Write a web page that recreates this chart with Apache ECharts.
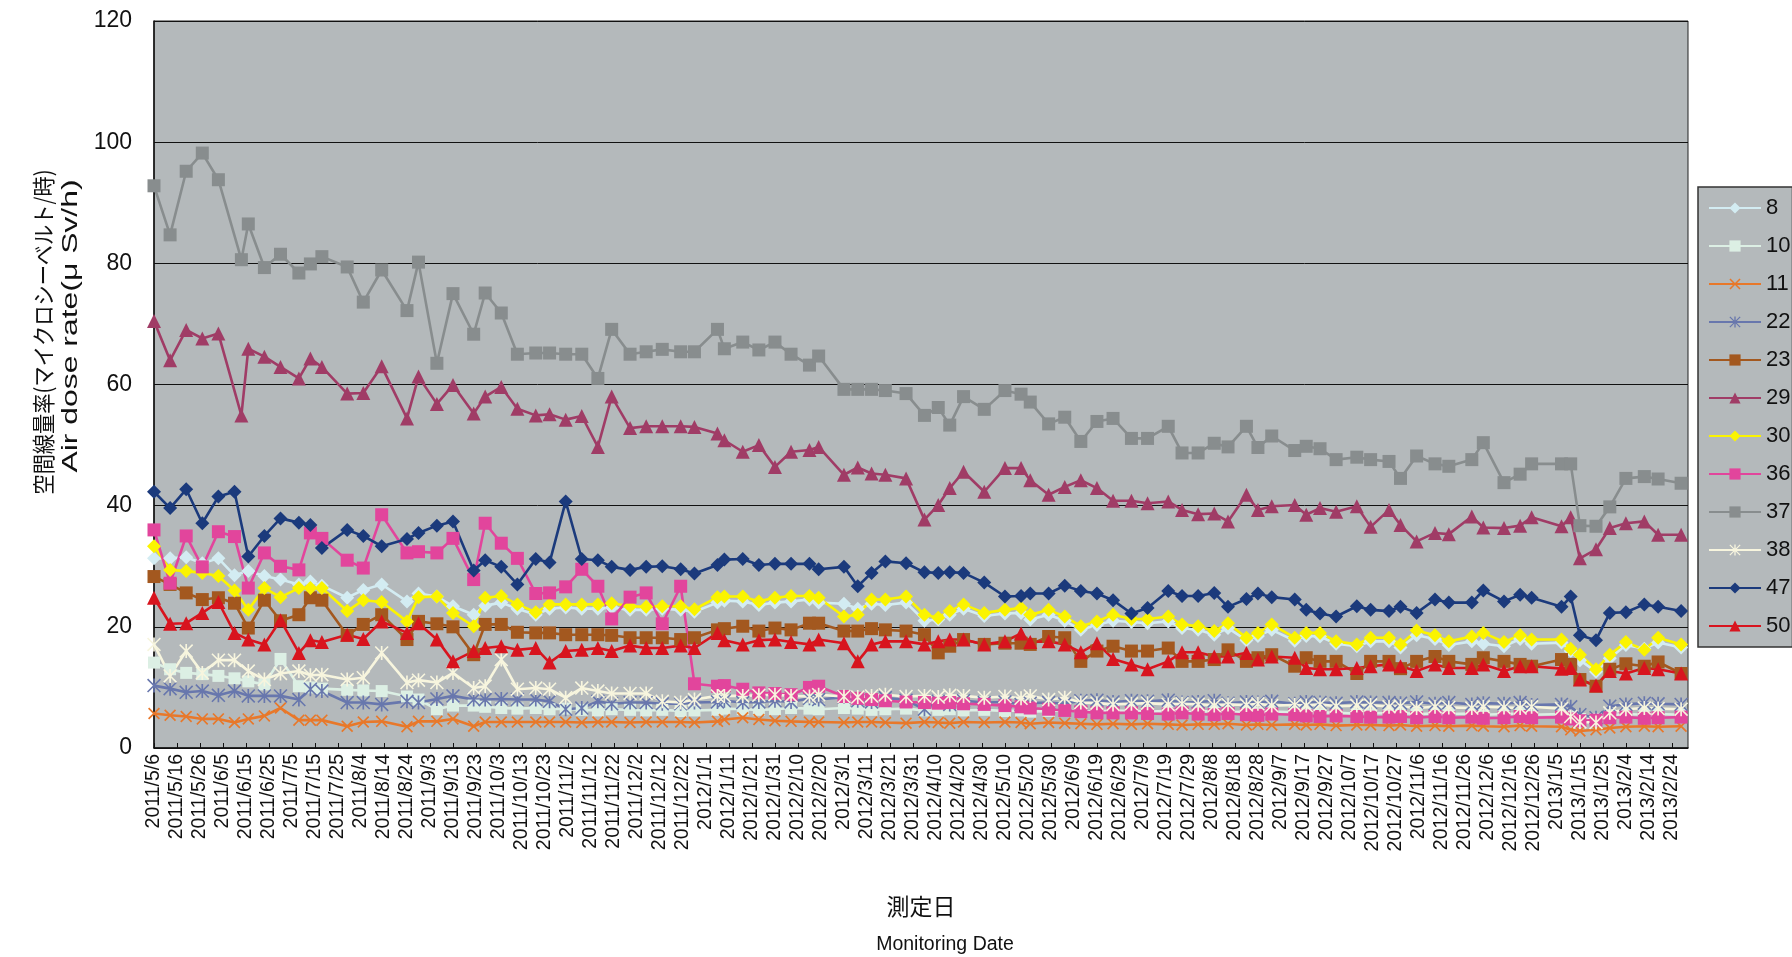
<!DOCTYPE html>
<html>
<head>
<meta charset="utf-8">
<script src="https://cdn.jsdelivr.net/npm/echarts@6/dist/echarts.min.js"></script>
<style>
html,body{margin:0;padding:0;background:#fff;}
#chart{width:1792px;height:957px;}
</style>
</head>
<body>
<div id="chart"></div>
<script>
// ---- measurement dates ----
const dates = [
'2011/5/6','2011/5/13','2011/5/20','2011/5/27','2011/6/3','2011/6/10','2011/6/13','2011/6/16','2011/6/23','2011/6/30',
'2011/7/8','2011/7/13','2011/7/18','2011/7/29','2011/8/5','2011/8/13','2011/8/24','2011/8/29','2011/9/6','2011/9/13',
'2011/9/22','2011/9/27','2011/10/4','2011/10/11','2011/10/19','2011/10/25','2011/11/1','2011/11/8','2011/11/15','2011/11/21',
'2011/11/29','2011/12/6','2011/12/13','2011/12/21','2011/12/27','2012/1/6','2012/1/9','2012/1/17','2012/1/24','2012/1/31',
'2012/2/7','2012/2/15','2012/2/19','2012/3/1','2012/3/7','2012/3/13','2012/3/19','2012/3/28','2012/4/5','2012/4/11',
'2012/4/16','2012/4/22','2012/5/1','2012/5/10','2012/5/17','2012/5/21','2012/5/29','2012/6/5','2012/6/12','2012/6/19',
'2012/6/26','2012/7/4','2012/7/11','2012/7/20','2012/7/26','2012/8/2','2012/8/9','2012/8/15','2012/8/23','2012/8/28',
'2012/9/3','2012/9/13','2012/9/18','2012/9/24','2012/10/1','2012/10/10','2012/10/16','2012/10/24','2012/10/29','2012/11/5',
'2012/11/13','2012/11/19','2012/11/29','2012/12/4','2012/12/13','2012/12/20','2012/12/25','2013/1/7','2013/1/11','2013/1/15',
'2013/1/22','2013/1/28','2013/2/4','2013/2/12','2013/2/18','2013/2/28'
];

// ---- series values (μSv/h) ----
const s8 = [
31.3,31.3,31.5,30.5,31.3,28.5,null,29.2,28.4,27.8,
27.0,27.5,26.8,24.8,26.1,27.0,24.2,25.5,25.0,23.4,
22.0,23.5,24.0,23.0,22.0,23.0,23.2,23.0,23.0,23.2,
22.8,22.8,23.0,22.8,22.5,24.0,24.3,24.2,23.6,24.0,
24.2,24.5,24.0,23.8,23.0,23.8,23.6,24.0,21.0,21.2,
22.0,23.0,21.8,22.2,22.3,21.2,22.0,21.0,19.5,20.3,
21.0,20.8,20.6,20.9,19.8,19.5,18.7,19.8,17.8,18.5,
19.5,17.7,18.5,18.4,17.2,16.8,17.6,17.6,16.6,18.6,
18.0,17.0,17.6,17.2,16.8,18.0,17.2,17.4,16.0,14.5,
12.6,14.8,17.0,16.4,17.4,16.6];
const s10 = [
14.1,13.0,12.4,12.2,11.9,11.5,null,11.0,10.5,14.7,
10.2,10.0,9.8,9.6,9.5,9.4,8.5,8.0,6.4,7.0,
7.0,6.8,6.6,6.5,6.6,6.4,6.5,6.3,6.2,6.4,
6.3,6.2,6.3,6.1,6.2,6.3,6.5,6.4,6.3,6.4,
6.6,6.5,6.4,6.6,6.5,6.3,6.4,6.5,6.2,6.3,
6.4,6.2,6.3,6.1,6.2,6.0,6.1,6.2,6.1,6.0,
6.2,6.1,6.0,6.1,5.9,6.0,6.1,5.9,6.0,5.8,
6.0,5.9,5.8,5.9,5.8,5.7,5.8,5.7,5.8,5.6,
5.7,5.6,5.7,5.5,5.6,5.7,5.5,5.6,5.2,4.8,
4.8,5.4,5.6,5.5,5.6,5.5];
const s11 = [
5.7,5.4,5.2,4.8,4.8,4.2,null,4.8,5.3,6.6,
4.6,4.6,4.6,3.6,4.3,4.4,3.5,4.4,4.4,4.8,
3.6,4.3,4.3,4.3,4.3,4.3,4.3,4.2,4.3,4.3,
4.2,4.3,4.3,4.3,4.2,4.4,4.7,5.0,4.7,4.5,
4.4,4.3,4.3,4.2,4.3,4.3,4.2,4.1,4.3,4.2,
4.1,4.3,4.2,4.3,4.2,4.0,4.2,4.1,4.0,3.9,
4.0,3.9,4.0,3.9,3.8,3.9,3.9,4.0,3.8,3.9,
3.8,3.9,3.8,3.9,3.7,3.8,3.8,3.7,3.8,3.6,
3.7,3.6,3.7,3.6,3.5,3.7,3.6,3.5,3.0,2.8,
3.0,3.3,3.5,3.6,3.5,3.6];
const s22 = [
10.3,9.8,9.2,9.4,8.7,9.4,null,8.6,8.6,8.6,
8.0,9.7,9.4,7.5,7.5,7.2,7.7,7.5,8.1,8.6,
8.0,8.0,8.1,8.0,8.0,7.7,6.4,6.6,7.7,7.3,
7.5,7.5,7.3,7.3,7.5,7.6,7.8,7.5,7.6,7.8,
7.6,8.2,8.0,8.4,7.8,7.6,8.3,7.9,6.4,7.7,
7.2,7.8,7.5,7.6,7.2,7.4,7.5,7.3,7.8,7.9,
7.6,7.8,7.7,7.9,7.5,7.6,7.8,7.4,7.6,7.5,
7.7,7.3,7.6,7.5,7.4,7.6,7.5,7.5,7.4,7.6,
7.3,7.5,7.2,7.4,7.3,7.5,7.1,7.2,6.8,5.5,
5.0,6.9,7.2,7.4,7.3,7.2];
const s23 = [
28.3,27.0,25.6,24.5,24.8,23.9,null,19.8,24.4,21.0,
22.0,24.8,24.4,18.6,20.4,22.0,17.9,20.9,20.5,20.0,
15.4,20.4,20.4,19.1,19.0,19.0,18.7,18.7,18.7,18.6,
18.2,18.2,18.2,17.9,18.2,19.5,19.7,20.1,19.3,19.8,
19.5,20.6,20.6,19.3,19.3,19.7,19.5,19.3,18.7,15.7,
16.8,17.9,17.1,17.3,17.3,17.1,18.4,18.2,14.3,16.0,
16.8,16.0,16.0,16.5,14.3,14.3,14.6,16.2,14.3,14.9,
15.4,13.5,14.9,14.3,14.3,12.3,14.3,14.3,13.1,14.3,
15.1,14.3,13.8,14.9,14.3,13.8,13.5,14.6,13.8,11.3,
10.2,13.0,13.9,13.5,14.2,12.3];
const s29 = [
70.5,64.0,69.0,67.6,68.4,null,54.9,65.9,64.6,62.9,
61.0,64.3,62.9,58.5,58.6,63.0,54.4,61.3,56.8,59.9,
55.2,58.0,59.6,56.0,54.9,55.1,54.2,54.8,49.7,58.0,
52.8,53.1,53.1,53.1,53.0,51.9,50.8,48.9,50.0,46.4,
48.9,49.2,49.7,45.1,46.3,45.3,45.1,44.5,37.7,40.1,
42.9,45.6,42.3,46.2,46.2,44.2,41.8,43.1,44.2,42.9,
40.8,40.8,40.4,40.7,39.3,38.6,38.7,37.4,41.8,39.3,
39.9,40.1,38.5,39.6,39.0,39.9,36.5,39.3,36.8,34.1,
35.5,35.3,38.2,36.4,36.3,36.7,38.1,36.6,38.1,31.3,
32.8,36.3,37.1,37.4,35.2,35.2];
const s30 = [
33.3,29.4,29.2,28.9,28.4,26.0,null,22.8,26.4,24.9,
26.4,26.4,26.4,22.6,24.4,24.1,20.9,24.9,25.0,22.3,
20.1,24.8,25.1,23.7,22.4,23.7,23.7,23.7,23.7,23.9,
23.4,23.3,23.4,23.4,22.9,24.9,25.0,25.0,24.2,24.8,
25.1,25.1,24.8,21.7,22.0,24.5,24.5,25.0,22.0,21.5,
22.6,23.7,22.3,22.8,23.1,22.0,22.8,21.7,20.1,20.9,
22.0,21.3,21.3,21.7,20.4,20.1,19.3,20.6,18.2,19.0,
20.4,18.2,19.0,19.0,17.6,17.1,18.2,18.2,17.1,19.4,
18.6,17.6,18.4,19.0,17.5,18.6,17.9,17.9,16.4,15.4,
13.0,15.4,17.5,16.2,18.2,17.1];
const s36 = [
36.0,27.2,35.0,29.9,35.7,34.9,null,26.4,32.2,30.0,
29.4,35.5,34.6,31.0,29.7,38.5,32.2,32.4,32.2,34.6,
27.8,37.1,33.8,31.3,25.5,25.6,26.6,29.5,26.7,21.3,
24.9,25.6,20.5,26.7,10.6,10.2,10.3,9.7,9.1,9.0,
8.8,10.0,10.2,8.5,8.2,8.0,7.8,7.6,7.5,7.4,
7.5,7.3,7.2,7.0,6.8,6.6,6.4,6.2,6.0,5.8,
5.8,5.8,5.7,5.6,5.8,5.6,5.5,5.7,5.5,5.4,
5.6,5.5,5.3,5.2,5.3,5.2,5.1,5.1,5.2,5.0,
5.2,5.0,5.1,4.9,5.0,5.2,5.0,5.1,4.8,4.5,
4.6,5.0,5.1,4.9,5.0,5.1];
const s37 = [
92.8,84.7,95.2,98.2,93.8,null,80.6,86.5,79.3,81.5,
78.4,79.9,81.1,79.4,73.6,78.9,72.2,80.2,63.5,75.0,
68.3,75.1,71.8,65.0,65.2,65.2,65.0,65.0,61.0,69.1,
65.0,65.4,65.8,65.4,65.4,69.1,65.9,67.0,65.7,67.0,
65.0,63.2,64.7,59.2,59.2,59.2,59.0,58.5,54.9,56.2,
53.3,58.0,55.9,59.0,58.4,57.1,53.5,54.6,50.6,53.9,
54.4,51.1,51.1,53.1,48.7,48.7,50.3,49.7,53.1,49.6,
51.5,49.1,49.8,49.4,47.6,48.0,47.6,47.3,44.5,48.2,
46.9,46.5,47.6,50.4,43.8,45.2,46.9,46.9,46.9,36.7,
36.6,39.8,44.5,44.8,44.4,43.7];
const s38 = [
17.1,11.9,16.0,12.4,14.5,14.5,null,12.7,11.3,12.3,
12.7,12.0,12.1,11.3,11.6,15.7,10.8,11.2,10.8,12.4,
9.9,10.2,14.6,9.7,9.9,9.7,8.3,9.9,9.4,9.0,
9.0,9.0,7.7,7.5,8.0,8.6,8.6,8.6,8.7,8.8,
8.6,8.5,8.8,8.5,8.4,8.6,8.8,8.5,8.6,8.4,
8.7,8.6,8.3,8.5,8.2,8.6,8.0,8.3,7.5,7.4,
7.2,7.3,7.4,7.2,7.3,7.2,7.0,7.2,7.1,7.3,
7.0,7.1,7.0,7.2,6.9,7.0,7.1,6.8,6.9,6.6,
6.8,6.7,6.6,6.8,6.7,6.6,6.8,6.5,5.2,4.3,
4.2,5.8,6.4,6.6,6.5,6.4];
const s47 = [
42.3,39.6,42.7,37.1,41.5,42.3,null,31.6,35.0,37.9,
37.2,36.8,33.0,36.0,35.0,33.3,34.5,35.5,36.7,37.4,
29.3,31.0,29.9,27.0,31.2,30.6,40.7,31.2,31.0,29.9,
29.4,29.9,30.0,29.5,28.8,30.2,31.1,31.2,30.2,30.4,
30.4,30.4,29.5,29.9,26.7,28.9,30.8,30.5,29.0,28.9,
29.0,28.9,27.3,25.0,25.1,25.5,25.5,26.8,25.9,25.5,
24.4,22.2,23.1,25.9,25.1,25.1,25.6,23.3,24.6,25.5,
24.9,24.5,22.8,22.2,21.7,23.4,22.8,22.6,23.3,22.3,
24.5,24.0,24.0,26.0,24.2,25.3,24.8,23.3,25.0,18.6,
17.8,22.3,22.4,23.7,23.3,22.6];
const s50 = [
24.8,20.5,20.6,22.3,24.1,19.0,null,17.9,17.1,21.1,
15.7,17.8,17.5,18.7,18.0,20.9,19.0,20.6,17.9,14.3,
16.0,16.5,16.8,16.2,16.5,14.1,16.0,16.2,16.5,16.0,
16.9,16.5,16.5,16.9,16.5,19.0,17.8,17.1,17.8,17.9,
17.5,17.1,17.9,17.3,14.3,17.1,17.6,17.6,17.1,17.6,
17.9,17.9,17.1,17.6,18.9,17.5,17.6,17.1,15.8,17.3,
14.7,13.8,13.0,14.3,15.8,15.8,15.1,15.1,15.7,14.6,
15.1,14.9,13.2,13.0,13.0,13.2,13.5,13.8,13.5,12.7,
13.8,13.2,13.2,13.8,12.7,13.5,13.5,13.1,13.2,11.3,
10.3,12.7,12.3,13.2,13.0,12.3];

const seriesNames = ['8','10','11','22','23','29','30','36','37','38','47','50'];
const seriesValues = [s8,s10,s11,s22,s23,s29,s30,s36,s37,s38,s47,s50];
const yTicks = [0,20,40,60,80,100,120];

// ---- styling (kept separate from data) ----
const SYM_X = 'path://M1,0 L5,4 L9,0 L10,1 L6,5 L10,9 L9,10 L5,6 L1,10 L0,9 L4,5 L0,1 Z';
const SYM_AST = 'path://M4.4,0 L5.6,0 L5.6,10 L4.4,10 Z M0,0.8 L0.8,0 L10,9.2 L9.2,10 Z M9.2,0 L10,0.8 L0.8,10 L0,9.2 Z';
const styles = {
  '8':  {color:'#d3ecf2', symbol:'diamond', size:14},
  '10': {color:'#dcefe4', symbol:'rect', size:12},
  '11': {color:'#e8782a', symbol:SYM_X, size:12},
  '22': {color:'#6877ad', symbol:SYM_AST, size:14},
  '23': {color:'#a3581f', symbol:'rect', size:13},
  '29': {color:'#a03c66', symbol:'triangle', size:14},
  '30': {color:'#fbf400', symbol:'diamond', size:14},
  '36': {color:'#e2459c', symbol:'rect', size:13},
  '37': {color:'#888d8e', symbol:'rect', size:13},
  '38': {color:'#f7f5de', symbol:SYM_AST, size:14},
  '47': {color:'#1b3a7c', symbol:'diamond', size:14},
  '50': {color:'#d8141e', symbol:'triangle', size:14}
};

const BASE = Date.UTC(2011,4,6);
function dayOf(s){const p=s.split('/').map(Number);return Math.round((Date.UTC(p[0],p[1]-1,p[2])-BASE)/86400000);}
function fmt(v){const t=new Date(BASE+v*86400000);return t.getUTCFullYear()+'/'+(t.getUTCMonth()+1)+'/'+t.getUTCDate();}
const dayIdx = dates.map(dayOf);

const series = seriesNames.map((n,i)=>{
  const st = styles[n];
  const data = [];
  seriesValues[i].forEach((v,k)=>{ if(v!==null) data.push([dayIdx[k], v]); });
  return {
    name:n, type:'line', data:data,
    symbol:st.symbol, symbolSize:st.size, showAllSymbol:true,
    lineStyle:{color:st.color, width:2.6},
    itemStyle:{color:st.color, borderColor:st.color, borderWidth:0},
    emphasis:{disabled:true}
  };
});

const chart = echarts.init(document.getElementById('chart'), null, {renderer:'canvas'});
chart.setOption({
  animation:false,
  backgroundColor:'#ffffff',
  grid:{left:154, right:104, top:21, bottom:209, show:true, backgroundColor:'#b4b9bb', borderColor:'#222', borderWidth:1},
  xAxis:{
    type:'value', min:0, max:667, interval:10,
    axisLine:{lineStyle:{color:'#111', width:1.5}},
    axisTick:{show:true, inside:true, length:5, lineStyle:{color:'#111'}},
    splitLine:{show:false},
    axisLabel:{rotate:90, fontSize:19.5, fontFamily:'Liberation Sans', color:'#111', margin:6,
      showMaxLabel:false, formatter:function(v){return fmt(v);}}
  },
  yAxis:{
    type:'value', min:yTicks[0], max:yTicks[yTicks.length-1], interval:20,
    axisLine:{show:true, lineStyle:{color:'#111', width:1.5}},
    axisTick:{show:false},
    splitLine:{show:true, lineStyle:{color:'#111', width:1}},
    axisLabel:{fontSize:23, fontFamily:'Liberation Sans', color:'#111', margin:22}
  },
  legend:{
    orient:'vertical', left:1698, top:187,
    padding:[10,2,10,10], itemGap:16, itemWidth:52, itemHeight:14,
    backgroundColor:'#b4b9bb', borderColor:'#333', borderWidth:1.5,
    textStyle:{fontSize:22, fontFamily:'Liberation Sans', color:'#111'},
    data:seriesNames
  },
  graphic:[
    {type:'text', x:43, y:332, rotation:Math.PI/2, scaleX:0.88,
     style:{text:'空間線量率(マイクロシーベルト/時)', font:'23px "Noto Sans CJK JP"', fill:'#111', textAlign:'center', textVerticalAlign:'middle'}},
    {type:'text', x:71, y:326, rotation:Math.PI/2, scaleX:1.45,
     style:{text:'Air dose rate(μ Sv/h)', font:'22px "Liberation Sans"', fill:'#111', textAlign:'center', textVerticalAlign:'middle'}},
    {type:'text', x:921, y:906,
     style:{text:'測定日', font:'23px "Noto Sans CJK JP"', fill:'#111', textAlign:'center', textVerticalAlign:'middle'}},
    {type:'text', x:945, y:945,
     style:{text:'Monitoring Date', font:'19.5px "Liberation Sans"', fill:'#111', textAlign:'center', textVerticalAlign:'middle'}}
  ],
  series:series
});
</script>
</body>
</html>
